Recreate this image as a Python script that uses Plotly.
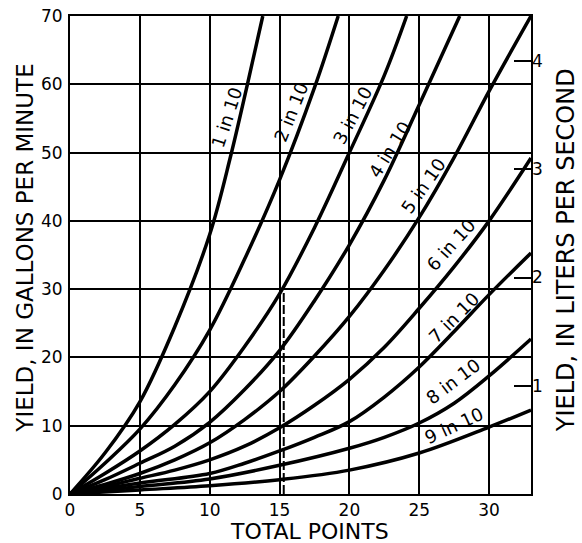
import plotly.graph_objects as go

# ---- data ----
GPM_PER_LPS = 15.85  # gallons per minute in one liter per second

points_1 = [0, 2.5, 5, 7.5, 10, 11.5, 12.7, 13.8]
yield_1 = [0, 6.0, 13.5, 24.5, 38.0, 49.5, 60, 70]

points_2 = [0, 2.5, 5, 7.5, 10, 12.5, 15, 17.5, 19.2]
yield_2 = [0, 4.5, 9.5, 16, 24, 34.4, 46, 59.5, 70]

points_3 = [0, 2.5, 5, 7.5, 10, 12.5, 15, 17.5, 20, 22.5, 24.1]
yield_3 = [0, 3, 6.3, 10.2, 15, 21.6, 29.3, 39, 50, 61.3, 70]

points_4 = [0, 2.5, 5, 7.5, 10, 12.5, 15, 17.5, 20, 22.5, 25, 27.9]
yield_4 = [0, 2.1, 4.5, 7, 10.5, 15.3, 21, 28.3, 36.5, 46, 57, 70]

points_5 = [0, 2.5, 5, 7.5, 10, 12.5, 15, 17.5, 20, 22.5, 25, 27.5, 30, 33]
yield_5 = [0, 1.4, 3.0, 5.0, 7.5, 10.9, 15, 20.2, 26, 32.8, 40.5, 49.3, 59, 70]

points_6 = [0, 2.5, 5, 7.5, 10, 12.5, 15, 17.5, 20, 22.5, 25, 27.5, 30, 33]
yield_6 = [0, 1.1, 2.3, 3.5, 5.0, 7.0, 9.7, 13, 16.8, 21.5, 27.2, 33.3, 40, 49.2]

points_7 = [0, 5, 10, 12.5, 15, 17.5, 20, 22.5, 25, 27.5, 30, 33]
yield_7 = [0, 1.6, 3.0, 4.5, 6.3, 8.3, 10.6, 14.2, 18.6, 23.8, 29.2, 35.3]

points_8 = [0, 5, 10, 15, 20, 22.5, 25, 27.5, 30, 33]
yield_8 = [0, 1.1, 2.2, 4.2, 6.7, 8.3, 10.4, 13.3, 17.3, 22.7]

points_9 = [0, 5, 10, 15, 20, 25, 30, 33]
yield_9 = [0, 0.6, 1.2, 2.1, 3.5, 6.0, 9.8, 12.3]

curve_names = ["1 in 10", "2 in 10", "3 in 10", "4 in 10", "5 in 10",
               "6 in 10", "7 in 10", "8 in 10", "9 in 10"]
curve_points = [points_1, points_2, points_3, points_4, points_5,
                points_6, points_7, points_8, points_9]
curve_yields = [yield_1, yield_2, yield_3, yield_4, yield_5,
                yield_6, yield_7, yield_8, yield_9]

# label anchor positions (data coords) and angles
label_x = [11.2, 15.8, 20.2, 22.9, 25.3, 27.3, 27.5, 27.4, 27.5]
label_y = [55.2, 55.9, 55.5, 50.4, 45.2, 36.5, 25.8, 16.5, 10.0]
label_angle = [-72, -68, -62, -58, -55, -48, -45, -37, -25]

# dashed example line
example_x = [15.3, 15.3]
example_y = [0, 30]

x_ticks = [0, 5, 10, 15, 20, 25, 30]
y_ticks = [0, 10, 20, 30, 40, 50, 60, 70]
lps_ticks = [1, 2, 3, 4]

X_MAX = 33
Y_MAX = 70

FONT = "DejaVu Sans"

fig = go.Figure()

for name, xs, ys in zip(curve_names, curve_points, curve_yields):
    fig.add_trace(go.Scatter(
        x=xs, y=ys, mode="lines", name=name,
        line=dict(color="black", width=3.5, shape="spline", smoothing=1.0),
        showlegend=False, hoverinfo="skip",
    ))

fig.add_trace(go.Scatter(
    x=example_x, y=example_y, mode="lines",
    line=dict(color="black", width=2, dash="9px,3px"),
    showlegend=False, hoverinfo="skip",
))

# invisible trace to activate the liters-per-second axis
fig.add_trace(go.Scatter(
    x=[0, X_MAX], y=[0, Y_MAX / GPM_PER_LPS], yaxis="y2", mode="lines",
    line=dict(width=0, color="rgba(0,0,0,0)"),
    showlegend=False, hoverinfo="skip",
))

for name, lx, ly, ang in zip(curve_names, label_x, label_y, label_angle):
    fig.add_annotation(
        x=lx, y=ly, text=name, textangle=ang, showarrow=False,
        font=dict(family=FONT, size=18, color="black"),
        xanchor="center", yanchor="middle",
    )

fig.add_annotation(xref="paper", yref="paper", x=-0.098, y=0.515,
                   text="YIELD, IN GALLONS PER MINUTE", textangle=-90,
                   showarrow=False,
                   font=dict(family=FONT, size=23, color="black"),
                   xanchor="center", yanchor="middle")
fig.add_annotation(xref="paper", yref="paper", x=1.076, y=0.51,
                   text="YIELD, IN LITERS PER SECOND", textangle=-90,
                   showarrow=False,
                   font=dict(family=FONT, size=24, color="black"),
                   xanchor="center", yanchor="middle")
fig.add_annotation(xref="paper", yref="paper", x=0.52, y=-0.079,
                   text="TOTAL POINTS", showarrow=False,
                   font=dict(family=FONT, size=22, color="black"),
                   xanchor="center", yanchor="middle")

tick_font = dict(family=FONT, size=17, color="black")

fig.update_layout(
    width=582, height=543,
    margin=dict(l=70, r=51, t=16, b=49, autoexpand=False),
    paper_bgcolor="white", plot_bgcolor="white",
    xaxis=dict(
        range=[0, X_MAX], tickvals=x_ticks, showgrid=True, automargin=False,
        gridcolor="black", gridwidth=1.5, zeroline=False,
        showline=True, linecolor="black", linewidth=2, mirror=True,
        ticks="", tickfont=tick_font, ticklabelstandoff=0,
        ticklabeloverflow="allow",
    ),
    yaxis=dict(
        range=[0, Y_MAX], tickvals=y_ticks, showgrid=True, automargin=False,
        gridcolor="black", gridwidth=1.5, zeroline=False,
        showline=True, linecolor="black", linewidth=2, mirror=True,
        ticks="", tickfont=tick_font, ticklabelstandoff=2,
        ticklabeloverflow="allow",
    ),
    yaxis2=dict(
        range=[0, Y_MAX / GPM_PER_LPS], overlaying="y", side="right",
        automargin=False,
        tickvals=lps_ticks, ticks="inside", ticklen=17, tickwidth=1.5,
        tickcolor="black", showgrid=False, zeroline=False, showline=False,
        tickfont=tick_font, ticklabeloverflow="allow",
    ),
)

# remove the browser's default 8px page margin so the figure fills the window
fig.write_html("out.html", config={"displayModeBar": False},
               post_script="document.body.style.margin='0';")
